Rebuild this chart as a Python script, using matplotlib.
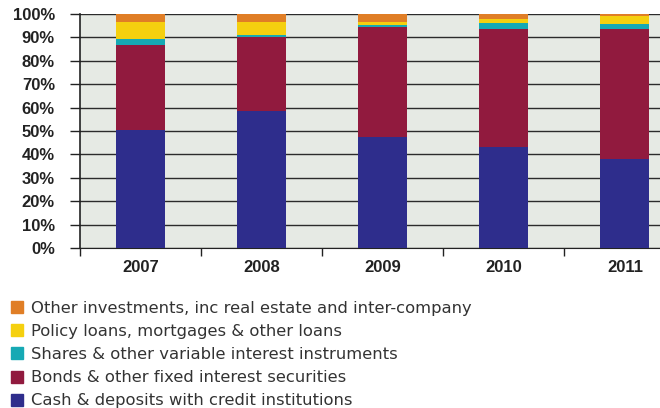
import matplotlib.pyplot as plt
from matplotlib import font_manager
from matplotlib.patches import Patch
import numpy as np

# valeurs (en %)
annees = ["2007", "2008", "2009", "2010", "2011"]
cash = [50.5, 58.4, 47.3, 43.0, 38.2]
bonds = [36.4, 31.9, 47.3, 50.7, 55.5]
shares = [2.5, 0.6, 0.8, 2.6, 2.2]
loans = [7.3, 5.8, 1.3, 1.7, 3.4]
other = [3.3, 3.3, 3.3, 2.0, 0.7]

series = [
    ("Cash & deposits with credit institutions", cash, "#2e2d8c"),
    ("Bonds & other fixed interest securities", bonds, "#911a3e"),
    ("Shares & other variable interest instruments", shares, "#16a9b4"),
    ("Policy loans, mortgages & other loans", loans, "#f5d00f"),
    ("Other investments, inc real estate and inter-company", other, "#e07e26"),
]

noms = [f.name for f in font_manager.fontManager.ttflist]
police_axe = "Liberation Sans Narrow" if "Liberation Sans Narrow" in noms else "Liberation Sans"

fig = plt.figure(figsize=(6.6, 4.08), dpi=100)
ax = fig.add_axes([80 / 660, 1 - 248 / 408, 580 / 660, 234 / 408])
ax.set_facecolor("#e6eae4")

x = np.arange(len(annees))
bas = np.zeros(len(annees))
for nom, vals, coul in series:
    ax.bar(x, vals, bottom=bas, width=0.405, color=coul, label=nom, zorder=3)
    bas += np.array(vals)

ax.set_ylim(0, 100)
ax.set_xlim(-0.5, 4.29)
ax.set_yticks(range(0, 101, 10))
ax.set_yticklabels([f"{v}%" for v in range(0, 101, 10)],
                   fontfamily=police_axe, fontweight="bold", fontsize=12, color="#222222")
ax.grid(axis="y", color="#2b2b2b", linewidth=1.0, zorder=1)
ax.set_axisbelow(True)

ax.set_xticks(x)
ax.set_xticklabels(annees, fontfamily=police_axe, fontweight="bold", fontsize=12, color="#222222")
ax.tick_params(axis="x", length=0, pad=9)
ax.set_xticks(np.arange(-0.5, 4.5, 1), minor=True)
ax.tick_params(axis="x", which="minor", length=6, width=1, color="#222222")
ax.tick_params(axis="y", length=7, width=1, color="#222222", pad=11)

for s in ["top", "right"]:
    ax.spines[s].set_visible(False)
ax.spines["left"].set_color("#222222")
ax.spines["bottom"].set_color("#222222")
ax.spines["left"].set_linewidth(1.2)

poignees = [Patch(color=c, label=n) for n, v, c in series][::-1]
fig.legend(handles=poignees, loc="upper left", bbox_to_anchor=(0.0, 1 - 290 / 408),
           frameon=False, handlelength=0.75, handleheight=0.75,
           handletextpad=0.5, labelspacing=0.5, borderaxespad=0.25,
           prop={"family": "DejaVu Sans", "size": 11.8}, labelcolor="#333333")

fig.savefig("out.png", dpi=100)
